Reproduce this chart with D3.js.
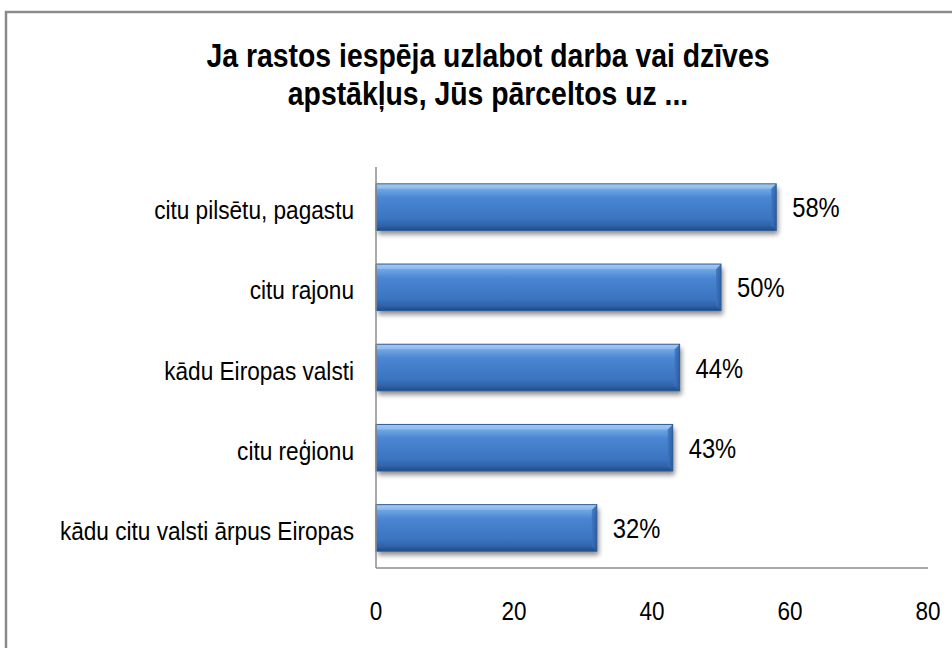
<!DOCTYPE html>
<html>
<head>
<meta charset="utf-8">
<script src="https://cdn.jsdelivr.net/npm/d3@7"></script>
<style>
  html, body { margin: 0; padding: 0; background: #fff; }
  svg { display: block; }
  text { font-family: "Liberation Sans", Arial, sans-serif; fill: #000; }
</style>
</head>
<body>
<svg id="chart" width="952" height="648"></svg>
<script>
// Survey answers: where respondents would move for better work or living conditions
const categories = [
  "citu pilsētu, pagastu",
  "citu rajonu",
  "kādu Eiropas valsti",
  "citu reģionu",
  "kādu citu valsti ārpus Eiropas"
];
const values = [58, 50, 44, 43, 32];
const xTicks = [0, 20, 40, 60, 80];
const titleLines = [
  "Ja rastos iespēja uzlabot darba vai dzīves",
  "apstākļus,  Jūs pārceltos uz ..."
];

const svg = d3.select("#chart");
const W = 952, H = 648;
const plot = { left: 376, right: 928, top: 167, bottom: 568 };

// Outer chart frame
svg.append("rect")
  .attr("x", 6).attr("y", 12)
  .attr("width", W + 20).attr("height", H + 20)
  .attr("fill", "#fff").attr("stroke", "#8a8a8a").attr("stroke-width", 2.5);

const defs = svg.append("defs");
const grad = defs.append("linearGradient").attr("id", "barFill")
  .attr("x1", 0).attr("y1", 0).attr("x2", 0).attr("y2", 1);
[[0, "#a9cdf4"], [0.12, "#6fa5e4"], [0.3, "#4a86d2"], [0.75, "#3b74c0"], [0.9, "#2f62a8"], [1, "#1f4a86"]]
  .forEach(([o, c]) => grad.append("stop").attr("offset", o).attr("stop-color", c));
const gradEnd = defs.append("linearGradient").attr("id", "barEnd")
  .attr("x1", 0).attr("y1", 0).attr("x2", 1).attr("y2", 0);
[[0, "#3b74c0"], [1, "#2a5898"]]
  .forEach(([o, c]) => gradEnd.append("stop").attr("offset", o).attr("stop-color", c));
const shadow = defs.append("filter").attr("id", "shadow")
  .attr("x", "-5%").attr("y", "-30%").attr("width", "115%").attr("height", "180%");
shadow.append("feGaussianBlur").attr("in", "SourceAlpha").attr("stdDeviation", 2.5);

// Narrow-set text: positioned by a translate, squeezed horizontally
function squeezed(sel, sx) {
  return sel.attr("transform", d => `translate(${d.x},${d.y}) scale(${sx},1)`);
}

// Title
squeezed(svg.append("g").selectAll("text")
  .data(titleLines.map((t, i) => ({ t, x: 488, y: 67 + i * 38 })))
  .join("text"), 0.86)
  .attr("text-anchor", "middle")
  .attr("font-size", 33).attr("font-weight", "bold")
  .text(d => d.t);

const x = d3.scaleLinear().domain([0, 80]).range([plot.left, plot.right]);
const y = d3.scaleBand().domain(categories).range([plot.top, plot.bottom]).paddingInner(0.42).paddingOuter(0.21);

// Bars
const bars = svg.append("g").selectAll("g").data(values).join("g")
  .attr("transform", (d, i) => `translate(0,${y(categories[i])})`);
const bh = y.bandwidth();
bars.append("rect")
  .attr("x", x(0) + 2).attr("y", 4)
  .attr("width", d => x(d) - x(0)).attr("height", bh)
  .attr("fill", "#000").attr("opacity", 0.45)
  .attr("filter", "url(#shadow)");
bars.append("rect")
  .attr("x", x(0)).attr("y", 0)
  .attr("width", d => x(d) - x(0)).attr("height", bh)
  .attr("fill", "url(#barFill)")
  .attr("stroke", "#2c5a98").attr("stroke-width", 1);
// bevelled right end
bars.append("path")
  .attr("d", d => {
    const xr = x(d), b = 5;
    return `M${xr - b},${b} L${xr},0 L${xr},${bh} L${xr - b},${bh - b} Z`;
  })
  .attr("fill", "url(#barEnd)").attr("opacity", 0.8);
// top highlight
bars.append("path")
  .attr("d", d => `M${x(0) + 1},1 L${x(d) - 1},1 L${x(d) - 5},5 L${x(0) + 1},5 Z`)
  .attr("fill", "#9fc6f2").attr("opacity", 0.55);

// Value labels
squeezed(svg.append("g").selectAll("text")
  .data(values.map((v, i) => ({ v, x: x(v) + 16, y: y(categories[i]) + bh / 2 + 10 })))
  .join("text"), 0.88)
  .attr("font-size", 27)
  .text(d => d.v + "%");

// Category labels
squeezed(svg.append("g").selectAll("text")
  .data(categories.map(c => ({ c, x: 354, y: y(c) + bh / 2 + 12 })))
  .join("text"), 0.87)
  .attr("text-anchor", "end")
  .attr("font-size", 26)
  .text(d => d.c);

// Axes lines
svg.append("line")
  .attr("x1", plot.left).attr("x2", plot.left)
  .attr("y1", plot.top).attr("y2", plot.bottom)
  .attr("stroke", "#8c8c8c").attr("stroke-width", 1.5);
svg.append("line")
  .attr("x1", plot.left).attr("x2", plot.right)
  .attr("y1", plot.bottom).attr("y2", plot.bottom)
  .attr("stroke", "#8c8c8c").attr("stroke-width", 1.5);

// X tick labels
squeezed(svg.append("g").selectAll("text")
  .data(xTicks.map(t => ({ t, x: x(t), y: 620 })))
  .join("text"), 0.9)
  .attr("text-anchor", "middle")
  .attr("font-size", 25)
  .text(d => d.t);
</script>
</body>
</html>
